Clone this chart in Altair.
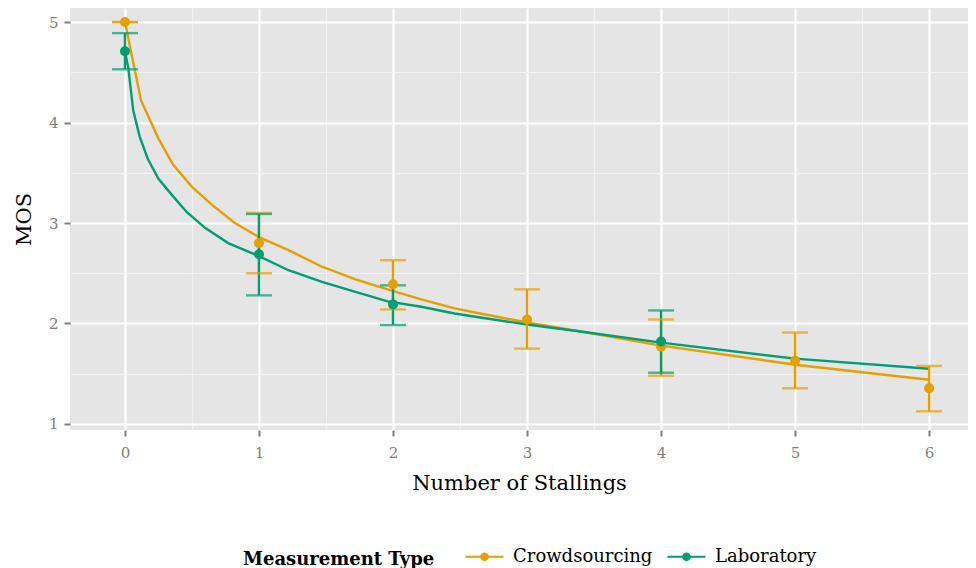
import altair as alt
import pandas as pd

# ---- data ----
types = ["Crowdsourcing", "Laboratory"]
colors = ["#E69F00", "#009E73"]

crowd_x = [0, 1, 2, 3, 4, 5, 6]
crowd_mos = [5.0, 2.80, 2.39, 2.04, 1.77, 1.63, 1.355]
crowd_lo = [5.0, 2.50, 2.14, 1.75, 1.48, 1.355, 1.126]
crowd_hi = [5.0, 3.10, 2.63, 2.34, 2.04, 1.91, 1.577]

lab_x = [0, 1, 2, 4]
lab_mos = [4.71, 2.69, 2.19, 1.82]
lab_lo = [4.53, 2.28, 1.985, 1.51]
lab_hi = [4.89, 3.09, 2.38, 2.13]

# fitted curves
crowd_curve_x = [0, 0.12, 0.25, 0.36, 0.5, 0.65, 0.82, 1.0, 1.22, 1.47, 1.72, 1.96,
                 2.21, 2.46, 2.65, 3.0, 3.4, 4.0, 5.0, 6.0]
crowd_curve_y = [5.0, 4.22, 3.84, 3.58, 3.36, 3.18, 3.00, 2.86, 2.73, 2.565, 2.44, 2.34,
                 2.24, 2.15, 2.10, 2.01, 1.92, 1.78, 1.59, 1.44]
lab_curve_x = [0, 0.025, 0.062, 0.11, 0.17, 0.25, 0.35, 0.46, 0.6, 0.77, 1.0, 1.22,
               1.47, 1.72, 1.96, 2.21, 2.46, 2.65, 3.0, 3.4, 4.0, 5.0, 6.0]
lab_curve_y = [4.71, 4.54, 4.12, 3.86, 3.64, 3.44, 3.28, 3.11, 2.95, 2.80, 2.67, 2.53,
               2.415, 2.315, 2.22, 2.167, 2.10, 2.06, 1.99, 1.92, 1.81, 1.65, 1.55]

x_grid = [0, 0.5, 1, 1.5, 2, 2.5, 3, 3.5, 4, 4.5, 5, 5.5, 6]
y_grid = [1, 1.5, 2, 2.5, 3, 3.5, 4, 4.5, 5]

# ---- tables ----
pts = pd.concat([
    pd.DataFrame({"x": crowd_x, "y": crowd_mos, "lo": crowd_lo, "hi": crowd_hi, "type": types[0]}),
    pd.DataFrame({"x": lab_x, "y": lab_mos, "lo": lab_lo, "hi": lab_hi, "type": types[1]}),
], ignore_index=True)
curves = pd.concat([
    pd.DataFrame({"x": crowd_curve_x, "y": crowd_curve_y, "type": types[0]}),
    pd.DataFrame({"x": lab_curve_x, "y": lab_curve_y, "type": types[1]}),
], ignore_index=True)

FONT = "DejaVu Serif"
is_major = "datum.value % 1 === 0"
label_expr = "datum.value % 1 === 0 ? format(datum.value, 'd') : ''"

xscale = alt.Scale(domain=[-0.41, 6.29], nice=False, zero=False)
yscale = alt.Scale(domain=[0.94, 5.14], nice=False, zero=False)

common_axis = dict(
    grid=True,
    gridColor=alt.condition(is_major, alt.value("#FFFFFF"), alt.value("#F2F2F2")),
    gridWidth=alt.condition(is_major, alt.value(2.2), alt.value(1.1)),
    tickOpacity=alt.condition(is_major, alt.value(1), alt.value(0)),
    labelExpr=label_expr,
    domain=False, tickColor="#7F7F7F", tickSize=6, tickWidth=2,
    labelColor="#7F7F7F", labelFontSize=15, labelFont=FONT,
    titleFont=FONT, titleFontSize=21, titleFontWeight="normal", titleColor="black",
)
xaxis = alt.Axis(values=x_grid, title="Number of Stallings", labelPadding=9,
                 titlePadding=12, **common_axis)
yaxis = alt.Axis(values=y_grid, title="MOS", labelPadding=6, titlePadding=14,
                 **common_axis)

X = alt.X("x:Q", scale=xscale, axis=xaxis)
Y = alt.Y("y:Q", scale=yscale, axis=yaxis)
cscale = alt.Scale(domain=types, range=colors)

legend_symbol = ("M-1,0H1M0.17,0A0.17,0.17,0,1,1,-0.17,0A0.17,0.17,0,1,1,0.17,0"
                 "M0.08,0A0.08,0.08,0,1,1,-0.08,0A0.08,0.08,0,1,1,0.08,0")

legend = alt.Legend(
    title="Measurement Type", orient="none", direction="horizontal",
    legendX=173, legendY=528, titleOrient="left", titleLimit=400, labelLimit=300,
    titleAnchor="middle", titleBaseline="top",
    titleFont=FONT, titleFontSize=18, titleFontWeight="bold", titleColor="black",
    labelFont=FONT, labelFontSize=18, labelColor="black",
    symbolType=legend_symbol, symbolSize=1444, symbolStrokeWidth=2.2,
    labelOffset=8, columnPadding=10, titlePadding=29,
)

lines = alt.Chart(curves).mark_line(strokeWidth=2.4).encode(
    x=X, y=Y,
    color=alt.Color("type:N", scale=cscale, legend=legend),
    detail="type:N",
)
err = alt.Chart(pts).mark_rule(strokeWidth=2.4).encode(
    x=X, y=alt.Y("lo:Q", scale=yscale, axis=yaxis), y2="hi:Q",
    color=alt.Color("type:N", scale=cscale, legend=None),
)
cap_lo = alt.Chart(pts).mark_tick(orient="horizontal", size=26, thickness=2.4).encode(
    x=X, y=alt.Y("lo:Q", scale=yscale, axis=yaxis),
    color=alt.Color("type:N", scale=cscale, legend=None),
)
cap_hi = alt.Chart(pts).mark_tick(orient="horizontal", size=26, thickness=2.4).encode(
    x=X, y=alt.Y("hi:Q", scale=yscale, axis=yaxis),
    color=alt.Color("type:N", scale=cscale, legend=None),
)
points = alt.Chart(pts).mark_circle(size=100, opacity=1).encode(
    x=X, y=Y,
    color=alt.Color("type:N", scale=cscale, legend=None),
)

chart = alt.layer(lines, err, cap_lo, cap_hi, points).properties(
    width=898, height=422,
    autosize=alt.AutoSizeParams(type="none"),
    padding={"left": 62, "top": 0, "right": 0, "bottom": 138},
    background="white",
).configure_view(
    fill="#E5E5E5", stroke=None,
)

chart.save("out.html", embed_options={"renderer": "svg", "actions": False})
